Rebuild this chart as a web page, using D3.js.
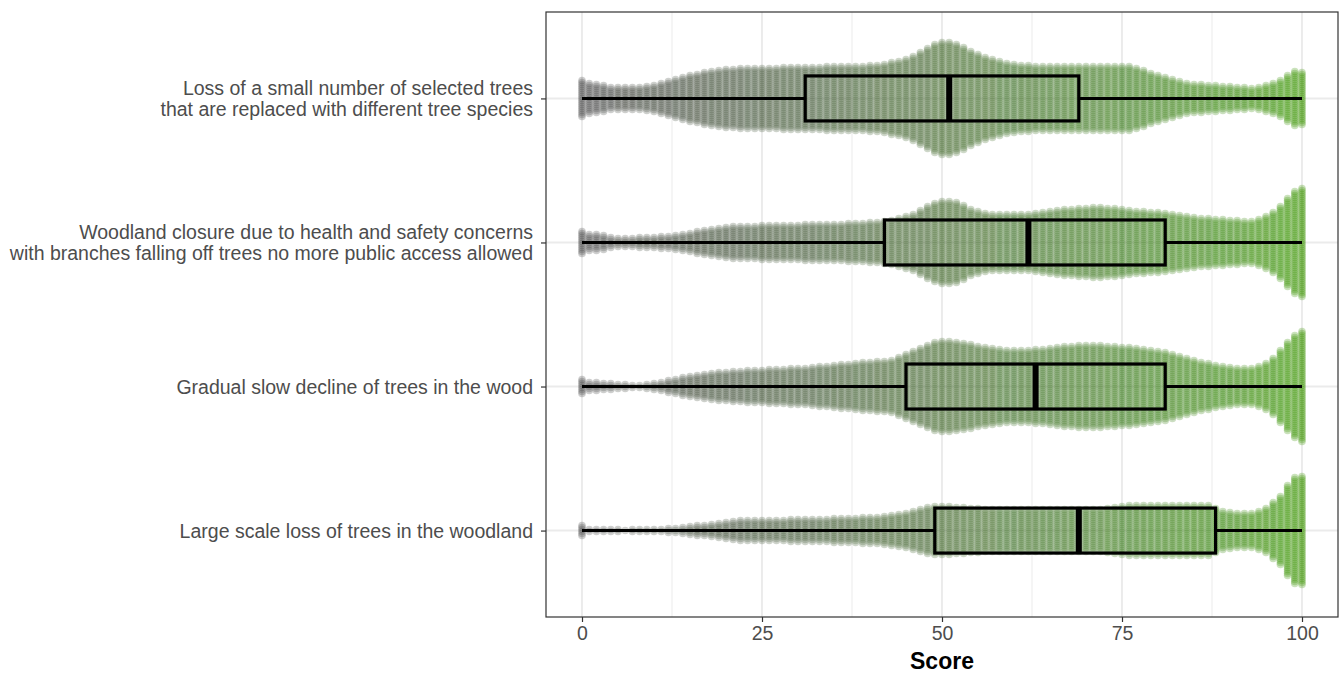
<!DOCTYPE html>
<html>
<head>
<meta charset="utf-8">
<script src="https://cdn.jsdelivr.net/npm/d3@7"></script>
<style>
  html, body { margin: 0; padding: 0; background: #fff; }
  svg { display: block; font-family: "Liberation Sans", Arial, sans-serif; }
</style>
</head>
<body>
<div id="chart"></div>
<script>
// categories, top to bottom
const categories = [
  'Loss of a small number of selected trees\nthat are replaced with different tree species',
  'Woodland closure due to health and safety concerns\nwith branches falling off trees no more public access allowed',
  'Gradual slow decline of trees in the wood',
  'Large scale loss of trees in the woodland'
];

// number of stacked points at each score 0..100
const countsSmallLoss = [
  19,16,15,14,12,12,12,12,12,13,
  14,16,18,20,22,24,25,27,28,29,
  30,30,31,31,31,31,31,31,32,32,
  32,32,32,32,33,33,33,33,33,33,
  34,34,35,37,38,40,43,47,51,55,
  57,57,55,52,48,45,42,40,38,36,
  35,34,34,33,33,33,33,33,33,33,
  33,33,33,33,33,33,33,31,29,26,
  24,22,20,18,16,15,15,14,14,13,
  13,12,12,11,12,14,16,19,24,28,
  27
];
const countsClosure = [
  12,9,9,8,6,5,5,5,6,6,
  6,7,7,8,9,10,12,13,14,15,
  16,17,17,17,17,18,18,18,18,18,
  18,19,19,19,19,19,19,20,20,20,
  21,21,22,23,25,27,29,33,37,40,
  42,42,41,38,34,32,30,29,29,29,
  29,29,29,30,31,32,33,34,34,35,
  35,36,36,35,35,34,33,32,32,31,
  31,30,29,28,27,26,25,25,24,24,
  23,23,22,22,24,27,31,37,45,52,
  55
];
const countsGradual = [
  8,5,5,4,4,3,3,2,2,3,
  4,5,7,8,10,11,12,13,14,15,
  15,16,16,17,17,17,18,18,18,19,
  19,19,20,21,21,22,23,23,24,25,
  25,26,26,27,30,33,36,39,42,45,
  46,46,45,44,43,41,40,39,38,37,
  37,37,37,38,38,39,40,41,41,42,
  42,42,42,41,41,40,40,39,38,37,
  36,35,33,31,29,27,25,24,22,21,
  20,19,19,19,21,24,29,37,45,52,
  56
];
const countsLargeScale = [
  6,2,2,2,2,2,1,2,2,2,
  2,2,3,3,4,5,6,6,7,8,
  9,10,11,11,11,11,11,11,11,12,
  12,12,12,12,12,13,13,13,13,14,
  14,14,15,16,17,18,20,22,24,25,
  25,25,24,24,23,23,22,22,22,22,
  22,22,22,22,22,22,22,22,22,22,
  22,22,22,23,24,25,26,26,26,26,
  26,26,26,26,26,26,26,26,23,20,
  19,18,18,18,20,23,29,35,46,54,
  55
];
const counts = [countsSmallLoss, countsClosure, countsGradual, countsLargeScale];

// boxplot stats per category
const boxMin = [0, 0, 0, 0];
const boxQ1 = [31, 42, 45, 49];
const boxMedian = [51, 62, 63, 69];
const boxQ3 = [69, 81, 81, 88];
const boxMax = [100, 100, 100, 100];

const xTicks = [0, 25, 50, 75, 100];
const xMinor = [12.5, 37.5, 62.5, 87.5];
const xTitle = 'Score';

const W = 1339, H = 673;
const M = { t: 12, r: 1, b: 56, l: 546 };
const DOT_R = 3.8, DOT_STEP = 2, BOX_HALF = 22.5;

const svg = d3.select('#chart').append('svg')
  .attr('width', W).attr('height', H)
  .attr('viewBox', `0 0 ${W} ${H}`);

const x = d3.scaleLinear().domain([-5, 105]).range([M.l, W - M.r]);
const y = d3.scalePoint().domain(categories).range([M.t, H - M.b]).padding(0.6);
const color = d3.scaleLinear().domain([0, 100])
  .range(['#4a4a4a', '#3a9400']).interpolate(d3.interpolateLab);

// grid
const grid = svg.append('g');
grid.selectAll('line.minor').data(xMinor).enter().append('line')
  .attr('x1', d => x(d)).attr('x2', d => x(d))
  .attr('y1', M.t).attr('y2', H - M.b)
  .attr('stroke', '#ebebeb').attr('stroke-width', 1);
grid.selectAll('line.majx').data(xTicks).enter().append('line')
  .attr('x1', d => x(d)).attr('x2', d => x(d))
  .attr('y1', M.t).attr('y2', H - M.b)
  .attr('stroke', '#ebebeb').attr('stroke-width', 1.9);
grid.selectAll('line.majy').data(categories).enter().append('line')
  .attr('x1', M.l).attr('x2', W - M.r)
  .attr('y1', d => y(d)).attr('y2', d => y(d))
  .attr('stroke', '#ebebeb').attr('stroke-width', 1.9);

// swarm points, one column per score value
const pts = [];
categories.forEach((c, ci) => {
  counts[ci].forEach((n, s) => {
    for (let i = 0; i < n; i++) pts.push({ c, s, off: (i - (n - 1) / 2) * DOT_STEP });
  });
});
svg.append('g').selectAll('circle').data(pts).enter().append('circle')
  .attr('cx', d => x(d.s))
  .attr('cy', d => y(d.c) + d.off)
  .attr('r', DOT_R)
  .attr('fill', d => color(d.s))
  .attr('fill-opacity', 0.27);

// boxplots
const boxes = categories.map((c, i) => ({
  c, min: boxMin[i], q1: boxQ1[i], med: boxMedian[i], q3: boxQ3[i], max: boxMax[i]
}));
const bx = svg.append('g').selectAll('g').data(boxes).enter().append('g');
bx.append('line')
  .attr('x1', d => x(d.min)).attr('x2', d => x(d.q1))
  .attr('y1', d => y(d.c)).attr('y2', d => y(d.c))
  .attr('stroke', '#000').attr('stroke-width', 3);
bx.append('line')
  .attr('x1', d => x(d.q3)).attr('x2', d => x(d.max))
  .attr('y1', d => y(d.c)).attr('y2', d => y(d.c))
  .attr('stroke', '#000').attr('stroke-width', 3);
bx.append('rect')
  .attr('x', d => x(d.q1)).attr('width', d => x(d.q3) - x(d.q1))
  .attr('y', d => y(d.c) - BOX_HALF).attr('height', BOX_HALF * 2)
  .attr('fill', 'none').attr('stroke', '#000').attr('stroke-width', 3.2);
bx.append('line')
  .attr('x1', d => x(d.med)).attr('x2', d => x(d.med))
  .attr('y1', d => y(d.c) - BOX_HALF).attr('y2', d => y(d.c) + BOX_HALF)
  .attr('stroke', '#000').attr('stroke-width', 6);

// panel border
svg.append('rect')
  .attr('x', M.l).attr('y', M.t)
  .attr('width', W - M.r - M.l).attr('height', H - M.b - M.t)
  .attr('fill', 'none').attr('stroke', '#333').attr('stroke-width', 1.2);

// axes
const gx = svg.append('g')
  .attr('transform', `translate(0,${H - M.b})`)
  .call(d3.axisBottom(x).tickValues(xTicks).tickSize(5).tickPadding(4).tickSizeOuter(0));
gx.select('.domain').remove();
gx.selectAll('.tick line').attr('stroke', '#333').attr('stroke-width', 1.2);
gx.selectAll('.tick text').attr('fill', '#4d4d4d')
  .style('font-size', '19.5px').style('font-family', '"Liberation Sans", Arial, sans-serif');

const gy = svg.append('g')
  .attr('transform', `translate(${M.l},0)`)
  .call(d3.axisLeft(y).tickSize(5).tickPadding(8).tickSizeOuter(0));
gy.select('.domain').remove();
gy.selectAll('.tick line').attr('stroke', '#333').attr('stroke-width', 1.2);
gy.selectAll('.tick text')
  .attr('fill', '#4d4d4d')
  .style('font-size', '19.5px').style('font-family', '"Liberation Sans", Arial, sans-serif')
  .each(function (d) {
    const lines = d.split('\n');
    const t = d3.select(this).text(null).attr('dy', null);
    lines.forEach((ln, i) => {
      t.append('tspan').attr('x', -13)
        .attr('dy', i === 0 ? `${0.35 - (lines.length - 1) * 0.54}em` : '1.08em')
        .text(ln);
    });
  });

svg.append('text')
  .attr('x', (M.l + W - M.r) / 2).attr('y', 669)
  .attr('text-anchor', 'middle')
  .style('font-size', '23px').style('font-weight', 'bold')
  .attr('fill', '#000')
  .text(xTitle);
</script>
</body>
</html>
